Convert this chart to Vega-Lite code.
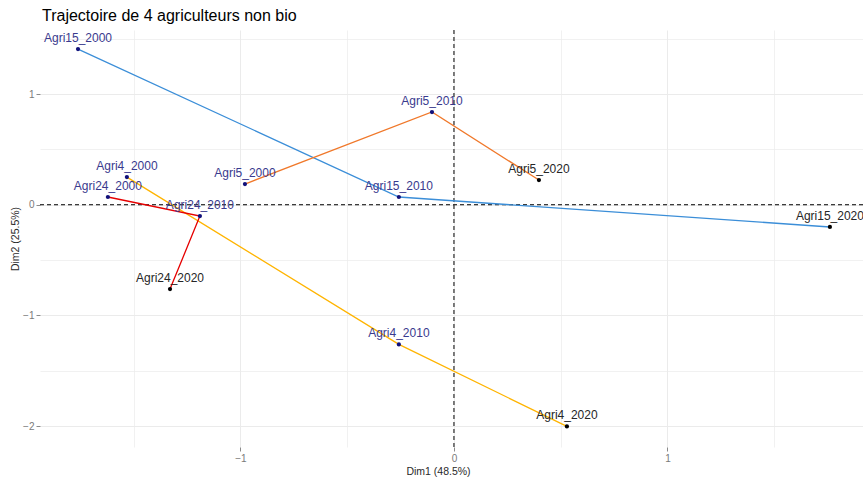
{
  "$schema": "https://vega.github.io/schema/vega-lite/v6.json",
  "width": 823,
  "height": 417,
  "autosize": {"type": "none"},
  "padding": {"left": 40, "top": 30, "right": 0, "bottom": 36},
  "title": {"text": "Trajectoire de 4 agriculteurs non bio", "anchor": "start", "frame": "group", "dx": 2, "fontSize": 16, "fontWeight": "normal", "font": "Liberation Sans", "color": "#000000", "offset": 6},
  "config": {
    "view": {"stroke": null},
    "font": "Liberation Sans",
    "axis": {
      "domain": false,
      "gridColor": "#ebebeb",
      "tickColor": "#8a8a8a",
      "tickSize": 4,
      "labelColor": "#7a7a7a",
      "labelFontSize": 10,
      "labelPadding": 2,
      "titleFontSize": 10.5,
      "titleFontWeight": "normal",
      "titleColor": "#2a2a2a"
    }
  },
  "data": {
    "values": [
      {"agri": "Agri15", "year": 2000, "label": "Agri15_2000", "x": -1.761, "y": 1.407},
      {"agri": "Agri15", "year": 2010, "label": "Agri15_2010", "x": -0.258, "y": 0.070},
      {"agri": "Agri15", "year": 2020, "label": "Agri15_2020", "x": 1.761, "y": -0.201},
      {"agri": "Agri5", "year": 2000, "label": "Agri5_2000", "x": -0.979, "y": 0.187},
      {"agri": "Agri5", "year": 2010, "label": "Agri5_2010", "x": -0.103, "y": 0.838},
      {"agri": "Agri5", "year": 2020, "label": "Agri5_2020", "x": 0.398, "y": 0.223},
      {"agri": "Agri4", "year": 2000, "label": "Agri4_2000", "x": -1.532, "y": 0.250},
      {"agri": "Agri4", "year": 2010, "label": "Agri4_2010", "x": -0.258, "y": -1.262},
      {"agri": "Agri4", "year": 2020, "label": "Agri4_2020", "x": 0.529, "y": -2.003},
      {"agri": "Agri24", "year": 2000, "label": "Agri24_2000", "x": -1.621, "y": 0.070},
      {"agri": "Agri24", "year": 2010, "label": "Agri24_2010", "x": -1.190, "y": -0.102},
      {"agri": "Agri24", "year": 2020, "label": "Agri24_2020", "x": -1.330, "y": -0.762}
    ]
  },
  "encoding": {
    "x": {
      "field": "x", "type": "quantitative",
      "scale": {"domain": [-1.939, 1.916], "nice": false, "zero": false},
      "axis": {
        "title": "Dim1 (48.5%)",
        "values": [-1.5, -1, -0.5, 0, 0.5, 1, 1.5],
        "labelExpr": "datum.value % 1 == 0 ? format(datum.value, 'd') : ''",
        "tickOpacity": {"condition": {"test": "datum.value % 1 != 0", "value": 0}, "value": 1},
        "gridWidth": {"condition": {"test": "datum.value % 1 != 0", "value": 0.7}, "value": 1},
        "titlePadding": 3,
        "titleX": 398
      }
    },
    "y": {
      "field": "y", "type": "quantitative",
      "scale": {"domain": [-2.189, 1.579], "nice": false, "zero": false},
      "axis": {
        "title": "Dim2 (25.5%)",
        "values": [-2, -1.5, -1, -0.5, 0, 0.5, 1, 1.5],
        "labelExpr": "datum.value % 1 == 0 ? format(datum.value, 'd') : ''",
        "tickOpacity": {"condition": {"test": "datum.value % 1 != 0", "value": 0}, "value": 1},
        "gridWidth": {"condition": {"test": "datum.value % 1 != 0", "value": 0.7}, "value": 1},
        "titlePadding": 2
      }
    }
  },
  "layer": [
    {
      "data": {"values": [{"v": 0}]},
      "mark": {"type": "rule", "color": "#000000", "strokeDash": [4, 3], "strokeWidth": 1},
      "encoding": {"x": {"field": "v", "type": "quantitative"}, "y": null}
    },
    {
      "data": {"values": [{"v": 0}]},
      "mark": {"type": "rule", "color": "#000000", "strokeDash": [4, 3], "strokeWidth": 1},
      "encoding": {"y": {"field": "v", "type": "quantitative"}, "x": null}
    },
    {
      "mark": {"type": "line", "strokeWidth": 1.3},
      "encoding": {
        "detail": {"field": "agri"},
        "order": {"field": "year", "type": "quantitative"},
        "color": {
          "field": "agri", "type": "nominal",
          "scale": {"domain": ["Agri15", "Agri24", "Agri4", "Agri5"], "range": ["#3b8ed8", "#e60000", "#ffb400", "#f0782a"]},
          "legend": null
        }
      }
    },
    {
      "mark": {"type": "point", "filled": true, "size": 18, "opacity": 1},
      "encoding": {
        "color": {"condition": {"test": "datum.year == 2020", "value": "#000000"}, "value": "#10107a"}
      }
    },
    {
      "mark": {"type": "text", "dy": -11, "fontSize": 12, "align": "center", "baseline": "middle"},
      "encoding": {
        "text": {"field": "label"},
        "color": {"condition": {"test": "datum.year == 2020", "value": "#262626"}, "value": "#3a3a8e"}
      }
    }
  ]
}
